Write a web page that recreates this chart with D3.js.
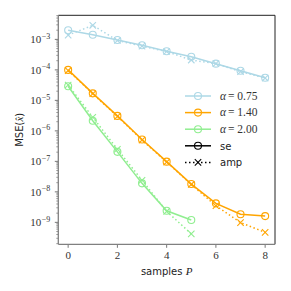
<!DOCTYPE html>
<html>
<head>
<meta charset="utf-8">
<script src="https://cdn.jsdelivr.net/npm/d3@7"></script>
<style>
  body { margin: 0; background: #fff; }
  svg { display: block; }
  .serif { font-family: "Liberation Serif", serif; }
  .sans { font-family: "DejaVu Sans", sans-serif; }
</style>
</head>
<body>
<div id="chart"></div>
<script>
// samples P on the x axis
var samples = [0, 1, 2, 3, 4, 5, 6, 7, 8];

var alphaLabels = ["0.75", "1.40", "2.00"];
var colors = ["#add8e6", "#ffa500", "#90ee90"];

// MSE for the state evolution (se) and amp runs, one array per alpha
var se075 = [2.0e-3, 1.42e-3, 9.5e-4, 6.4e-4, 4.1e-4, 2.7e-4, 1.6e-4, 9.4e-5, 5.5e-5];
var amp075 = [1.38e-3, 2.9e-3, 9.2e-4, 6.0e-4, 4.0e-4, 2.1e-4, 1.6e-4, 8.8e-5, 5.4e-5];
var se140 = [1.0e-4, 1.7e-5, 3.1e-6, 5.2e-7, 9.8e-8, 1.8e-8, 4.2e-9, 1.85e-9, 1.6e-9];
var amp140 = [9.5e-5, 1.65e-5, 3.0e-6, 5.0e-7, 9.5e-8, 1.75e-8, 3.5e-9, 9.8e-10, 4.7e-10];
var se200 = [2.9e-5, 2.15e-6, 2.05e-7, 1.9e-8, 2.4e-9, 1.2e-9];
var amp200 = [3.2e-5, 2.8e-6, 2.5e-7, 2.4e-8, 2.3e-9, 4.2e-10];

var xTicks = [0, 2, 4, 6, 8];
var yTickExps = [-9, -8, -7, -6, -5, -4, -3];

var seSeries = [se075, se140, se200];
var ampSeries = [amp075, amp140, amp200];

var width = 291, height = 291;
var margin = {top: 15.3, right: 16, bottom: 46.7, left: 58.3};
var innerWidth = width - margin.left - margin.right,
    innerHeight = height - margin.top - margin.bottom;

var svg = d3.select("#chart").append("svg")
    .attr("width", width)
    .attr("height", height);

var g = svg.append("g")
    .attr("transform", "translate(" + margin.left + "," + margin.top + ")");

var xScale = d3.scaleLinear().domain([-0.4, 8.4]).range([0, innerWidth]);
var yScale = d3.scaleLog().domain([Math.pow(10, -9.72), Math.pow(10, -2.21)]).range([innerHeight, 0]);

// frame: top/right black, left/bottom grey
g.append("line").attr("x1", 0).attr("x2", innerWidth).attr("y1", 0).attr("y2", 0)
  .attr("stroke", "#222").attr("stroke-width", 1);
g.append("line").attr("x1", innerWidth).attr("x2", innerWidth).attr("y1", 0).attr("y2", innerHeight)
  .attr("stroke", "#222").attr("stroke-width", 1);

// minor y ticks
var minor = [];
for (var e = -10; e <= -2; e++) {
  for (var m = 2; m <= 9; m++) {
    var v = m * Math.pow(10, e);
    if (v >= yScale.domain()[0] && v <= yScale.domain()[1]) minor.push(v);
  }
}
g.selectAll(".minor").data(minor).enter().append("line")
  .attr("class", "minor")
  .attr("x1", -2).attr("x2", 0)
  .attr("y1", function(d) { return yScale(d); })
  .attr("y2", function(d) { return yScale(d); })
  .attr("stroke", "#555").attr("stroke-width", 0.6);

// major y ticks + labels (base and exponent as separate texts)
var yTick = g.selectAll(".ytick").data(yTickExps).enter().append("g")
  .attr("class", "ytick")
  .attr("transform", function(d) { return "translate(0," + yScale(Math.pow(10, d)) + ")"; });
yTick.append("line").attr("x1", -3.5).attr("x2", 0).attr("stroke", "#555").attr("stroke-width", 0.8);
yTick.append("text")
  .attr("class", "serif")
  .attr("x", -17).attr("y", 4)
  .attr("text-anchor", "end")
  .attr("font-size", 11).attr("fill", "#333")
  .text("10");
yTick.append("text")
  .attr("class", "serif")
  .attr("x", -16.5).attr("y", -0.5)
  .attr("text-anchor", "start")
  .attr("font-size", 8).attr("fill", "#333")
  .text(function(d) { return "\u2212" + Math.abs(d); });

// x ticks
var xTick = g.selectAll(".xtick").data(xTicks).enter().append("g")
  .attr("class", "xtick")
  .attr("transform", function(d) { return "translate(" + xScale(d) + "," + innerHeight + ")"; });
xTick.append("line").attr("y1", 0).attr("y2", 3.5).attr("stroke", "#555").attr("stroke-width", 0.8);
xTick.append("text").attr("class", "serif").attr("y", 15).attr("text-anchor", "middle")
  .attr("font-size", 11).attr("fill", "#333")
  .text(function(d) { return d; });

// grey left/bottom spines
g.append("line").attr("x1", 0).attr("x2", 0).attr("y1", 0).attr("y2", innerHeight)
  .attr("stroke", "#808080").attr("stroke-width", 1.3);
g.append("line").attr("x1", 0).attr("x2", innerWidth).attr("y1", innerHeight).attr("y2", innerHeight)
  .attr("stroke", "#808080").attr("stroke-width", 1.3);

var line = d3.line()
  .x(function(d, i) { return xScale(samples[i]); })
  .y(function(d) { return yScale(d); });

function crossPath(r) {
  return "M" + (-r) + "," + (-r) + "L" + r + "," + r + "M" + (-r) + "," + r + "L" + r + "," + (-r);
}

var plot = g.append("g");

// amp: dotted with x markers
ampSeries.forEach(function(s, k) {
  plot.append("path").datum(s)
    .attr("d", line)
    .attr("fill", "none")
    .attr("stroke", colors[k])
    .attr("stroke-width", 1.5)
    .attr("stroke-dasharray", "1.5,2.5");
  plot.selectAll(".amp" + k).data(s).enter().append("path")
    .attr("d", crossPath(3.2))
    .attr("transform", function(d, i) { return "translate(" + xScale(samples[i]) + "," + yScale(d) + ")"; })
    .attr("stroke", colors[k]).attr("stroke-width", 1.1).attr("fill", "none");
});

// se: solid with open circles
seSeries.forEach(function(s, k) {
  plot.append("path").datum(s)
    .attr("d", line)
    .attr("fill", "none")
    .attr("stroke", colors[k])
    .attr("stroke-width", 1.5);
  plot.selectAll(".se" + k).data(s).enter().append("circle")
    .attr("cx", function(d, i) { return xScale(samples[i]); })
    .attr("cy", function(d) { return yScale(d); })
    .attr("r", 3.5)
    .attr("stroke", colors[k]).attr("stroke-width", 1.1).attr("fill", "none");
});

// legend
var legend = svg.append("g").attr("transform", "translate(185,96)");
var rowH = 16.6;
var items = alphaLabels.map(function(a, k) { return {type: "alpha", label: a, color: colors[k]}; })
  .concat([{type: "se", label: "se", color: "#000"}, {type: "amp", label: "amp", color: "#000"}]);

var li = legend.selectAll(".li").data(items).enter().append("g")
  .attr("transform", function(d, i) { return "translate(0," + (i * rowH) + ")"; });
li.append("line").attr("x1", 0).attr("x2", 26)
  .attr("stroke", function(d) { return d.color; })
  .attr("stroke-width", 1.5)
  .attr("stroke-dasharray", function(d) { return d.type === "amp" ? "1.5,2.5" : null; });
li.filter(function(d) { return d.type !== "amp"; }).append("circle")
  .attr("cx", 13).attr("r", 3.5).attr("fill", "none")
  .attr("stroke", function(d) { return d.color; }).attr("stroke-width", 1.1);
li.filter(function(d) { return d.type === "amp"; }).append("path")
  .attr("d", crossPath(3.2)).attr("transform", "translate(13,0)")
  .attr("stroke", "#000").attr("stroke-width", 1.1);

var alphaItems = li.filter(function(d) { return d.type === "alpha"; });
alphaItems.append("text")
  .attr("class", "serif")
  .attr("x", 35).attr("y", 3.8)
  .attr("font-style", "italic").attr("font-size", 11.5).attr("fill", "#333")
  .text("\u03b1");
alphaItems.append("text")
  .attr("class", "serif")
  .attr("x", 43).attr("y", 3.8)
  .attr("font-size", 11.5).attr("fill", "#333")
  .text(function(d) { return "= " + d.label; });

li.filter(function(d) { return d.type !== "alpha"; }).append("text")
  .attr("class", "sans")
  .attr("x", 35).attr("y", 3.8)
  .attr("font-size", 10).attr("fill", "#222")
  .text(function(d) { return d.label; });

// axis labels
var xl = svg.append("text")
  .attr("class", "sans")
  .attr("x", margin.left + innerWidth / 2).attr("y", 275)
  .attr("text-anchor", "middle")
  .attr("font-size", 10).attr("fill", "#222");
xl.append("tspan").text("samples ");
xl.append("tspan").attr("class", "serif").attr("font-style", "italic").attr("font-size", 11).text("P");

var yl = svg.append("text")
  .attr("class", "sans")
  .attr("transform", "translate(23," + (margin.top + innerHeight / 2) + ") rotate(-90)")
  .attr("text-anchor", "middle")
  .attr("font-size", 10).attr("fill", "#222");
yl.append("tspan").text("MSE(");
yl.append("tspan").attr("class", "serif").attr("font-style", "italic").attr("font-size", 11).text("x\u0302");
yl.append("tspan").text(")");
</script>
</body>
</html>
